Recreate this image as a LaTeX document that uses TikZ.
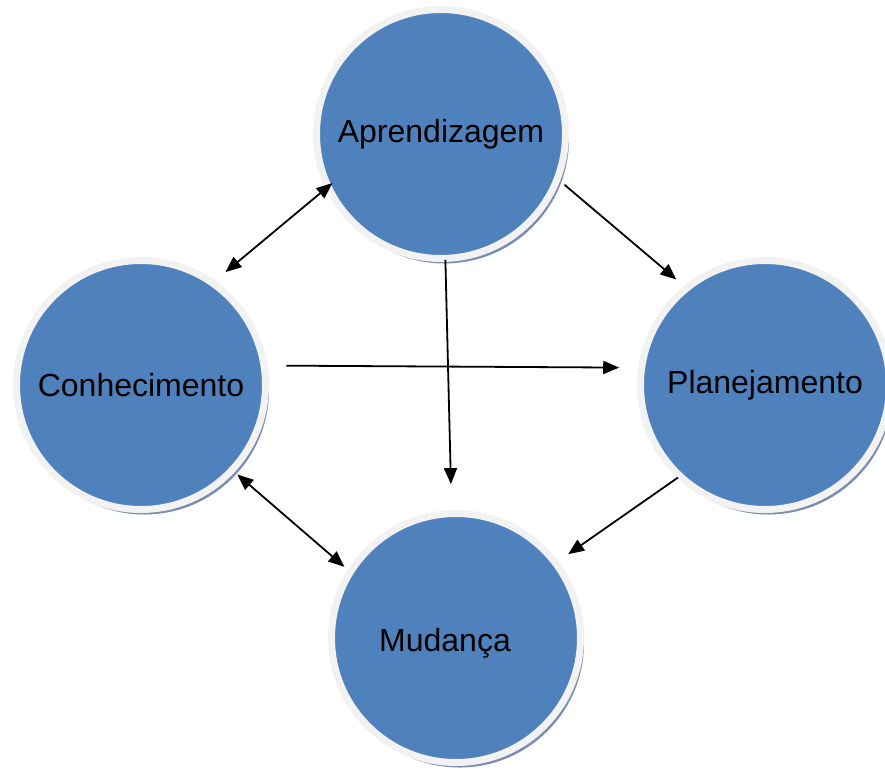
\documentclass[tikz,border=0pt]{standalone}
\usepackage{fontspec}
\setmainfont{Liberation Sans}
\usetikzlibrary{arrows.meta,shadows}
\definecolor{bubbleblue}{HTML}{4F81BD}
\definecolor{ringgray}{HTML}{F2F2F2}
\definecolor{shadowblue}{HTML}{7A8DB0}
\begin{document}
\begin{tikzpicture}[x=1pt,y=-1pt,
  bubble/.style={circle, fill=bubbleblue, draw=ringgray, line width=7pt,
    minimum size=249pt, inner sep=0pt, outer sep=0pt,
    font=\fontsize{32}{37}\selectfont,
    drop shadow={shadow xshift=3.5pt, shadow yshift=-5pt, fill=shadowblue, opacity=1}},
  link/.style={line width=1.8pt, -{Triangle[length=16pt,width=13pt]}},
  dlink/.style={line width=1.8pt, {Triangle[length=16pt,width=13pt]}-{Triangle[length=16pt,width=13pt]}}]
\useasboundingbox (0,0) rectangle (885,769);
\clip (0,0) rectangle (885,769);
\node[bubble] (apr) at (441,134) {Aprendizagem};
\node[bubble] (con) at (141,385) {Conhecimento};
\node[bubble] (pla) at (765,385) {Planejamento};
\node[bubble, label={[xshift=-11pt,yshift=-5pt,font=\fontsize{32}{37}\selectfont]center:Mudança}] (mud) at (456,638) {};
\draw[dlink, shorten <=17pt, shorten >=-5.5pt] (con.55) -- (apr.205);
\draw[link, shorten <=9.5pt, shorten >=13.5pt] (apr.-21.4) -- (pla.129.7);
\draw[link, shorten <=1.5pt, shorten >=29.5pt] (apr.-88.6) -- (mud.92.6);
\draw[link, shorten <=22.5pt, shorten >=22.5pt] (con.9) -- (pla.172.6);
\draw[link, shorten <=2.5pt, shorten >=15.5pt] (pla.227.2) -- (mud.37.4);
\draw[dlink, shorten <=7pt, shorten >=8pt] (con.-43.8) -- (mud.148.6);
\end{tikzpicture}
\end{document}
